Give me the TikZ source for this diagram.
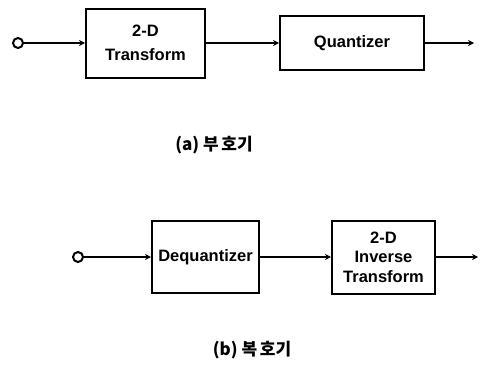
\documentclass[tikz,border=0pt]{standalone}
\usepackage{fontspec}
\setmainfont{Liberation Sans}
\newfontfamily\cjk{Noto Sans CJK KR}
\newfontfamily\cjkwide{Noto Sans CJK KR}[LetterSpace=16]
\usepackage{tikz}
\usetikzlibrary{positioning,arrows.meta,calc}

\begin{document}
\begin{tikzpicture}[
    x=1pt, y=-1pt,
    font=\fontsize{16.5}{19.5}\selectfont\bfseries,
    blk/.style={draw, line width=2pt, align=center, inner sep=2pt, fill=white},
    term/.style={draw, circle, line width=2pt, minimum size=10pt, inner sep=0pt},
    arr/.style={-{Stealth[length=6pt,width=6pt]}, line width=1.8pt},
    lbl/.style={font=\fontsize{17}{20}\selectfont\cjk\bfseries, inner sep=1pt}
  ]
  \useasboundingbox (0,0) rectangle (481,372);

  % (a) encoder
  \node[term] (inA) at (18, 43) {};
  \node[blk, minimum width=119pt, minimum height=69pt] (trans) at (145.5, 43) {2-D\\[5pt]Transform};
  \node[blk, minimum width=144pt, minimum height=54pt] (quant) at (352, 43) {Quantizer};
  \coordinate (outA) at (474, 43);
  \draw[arr] (inA.east)   -- (trans.west);
  \draw[arr] (trans.east) -- (quant.west);
  \draw[arr] (quant.east) -- (outA);
  \node[lbl] (capA) at (214, 145) {(a) {\cjkwide 부호}기};

  % (b) decoder
  \node[term] (inB) at (78, 257) {};
  \node[blk, minimum width=107pt, minimum height=72pt] (dequant) at (205.5, 257) {Dequantizer};
  \node[blk, minimum width=103pt, minimum height=73pt] (itrans) at (383.5, 257) {2-D\\Inverse\\Transform};
  \coordinate (outB) at (478, 257);
  \draw[arr] (inB.east)     -- (dequant.west);
  \draw[arr] (dequant.east) -- (itrans.west);
  \draw[arr] (itrans.east)  -- (outB);
  \node[lbl] (capB) at (252, 350) {(b) {\cjkwide 복호}기};
\end{tikzpicture}
\end{document}
